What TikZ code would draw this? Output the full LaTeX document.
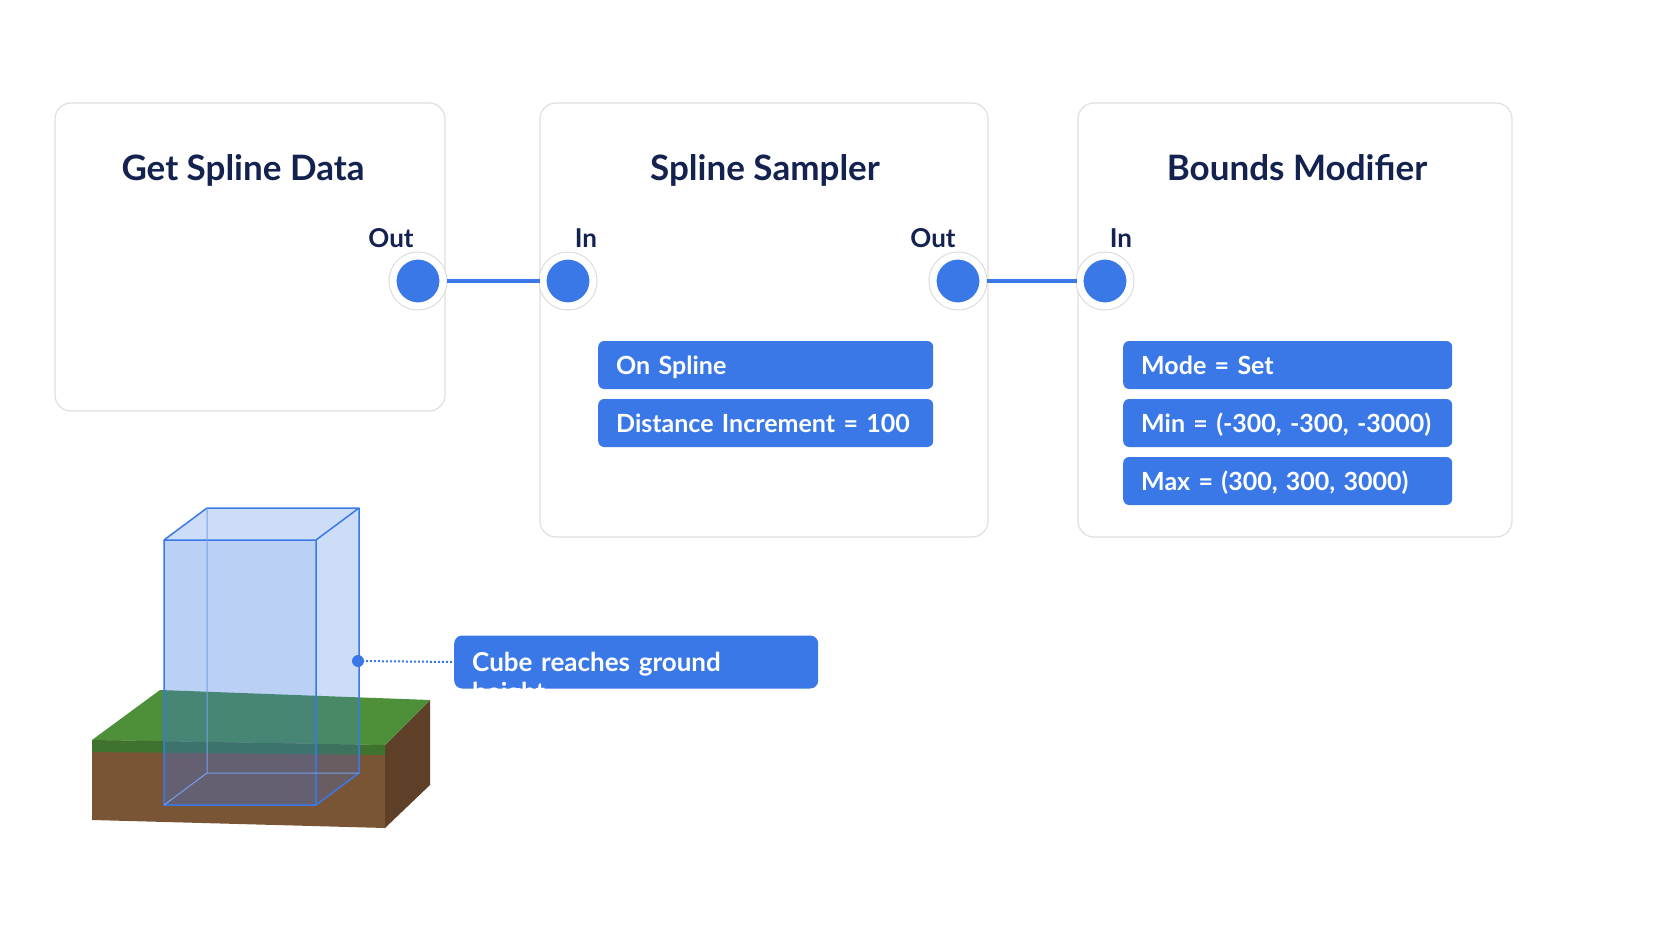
\documentclass[tikz,border=0pt]{standalone}
\usepackage{fontspec}
\setmainfont{Lato}
\usetikzlibrary{positioning}
\definecolor{navy}{HTML}{13224F}
\definecolor{nodeblue}{HTML}{3B78E7}
\definecolor{grass}{HTML}{4E8F3A}
\definecolor{dirt}{HTML}{7A5535}
\definecolor{dirtdark}{HTML}{5E4028}
\tikzset{
  card/.style={draw=black!12, fill=white, rounded corners=16pt, line width=1.2pt},
  title/.style={font=\bfseries\fontsize{35}{40}\selectfont, text=navy, text depth=0pt},
  portlabel/.style={font=\bfseries\fontsize{26}{30}\selectfont, text=navy, text depth=0pt},
  port/.style={circle, fill=nodeblue, draw=white, line width=7pt, minimum size=50pt, inner sep=0pt,
    preaction={draw=black!15, line width=9pt}},
  param/.style={fill=nodeblue, rounded corners=6pt, text=white, anchor=west, align=left,
    font=\bfseries\fontsize{25}{28}\selectfont, minimum height=48pt, inner xsep=18pt, text depth=0pt},
  link/.style={nodeblue, line width=4pt}
}
\begin{document}
\begin{tikzpicture}[x=1pt,y=-1pt]
	\useasboundingbox[fill=white] (0,0) rectangle (1672,941);
	
	% cards
	\draw[card] (55,103) rectangle (445,411);
	\draw[card] (540,103) rectangle (988,537);
	\draw[card] (1078,103) rectangle (1512,537);
	
	\node[title] (t1) at (243,167) {Get Spline Data};
	\node[title] (t2) at (765,167) {Spline Sampler};
	\node[title] (t3) at (1297,167) {Bounds Modifier};
	
	\node[portlabel] (l1) at (391,238) {Out};
	\node[portlabel] (l2) at (586,238) {In};
	\node[portlabel] (l3) at (933,238) {Out};
	\node[portlabel] (l4) at (1121,238) {In};
	
	\node[port] (p1) at (418,281) {};
	\node[port] (p2) at (568,281) {};
	\node[port] (p3) at (958,281) {};
	\node[port] (p4) at (1105,281) {};
	
	\draw[link] (p1) -- (p2);
	\draw[link] (p3) -- (p4);
	
	% parameters
	\node[param, text width=299pt] (s1) at (598,365) {On Spline};
	\node[param, text width=299pt] (s2) at (598,423) {Distance Increment = 100};
	\node[param, text width=293pt] (b1) at (1123,365) {Mode = Set};
	\node[param, text width=293pt] (b2) at (1123,423) {Min = (-300, -300, -3000)};
	\node[param, text width=293pt] (b3) at (1123,481) {Max = (300, 300, 3000)};
	
	% ground block
	\fill[dirt] (92,740) -- (385,745) -- (385,828) -- (92,820) -- cycle;
	\fill[dirtdark] (385,745) -- (430,700) -- (430,785) -- (385,828) -- cycle;
	\fill[grass] (92,740) -- (160,690) -- (430,700) -- (385,745) -- cycle;
	\fill[grass!80!black] (92,740) -- (385,745) -- (385,755) -- (92,752) -- cycle;
	
	% cube
	\fill[nodeblue, opacity=0.25] (164,540) -- (207,508) -- (359,508) -- (359,773) -- (316,805) -- (164,805) -- cycle;
	\fill[nodeblue, opacity=0.12] (164,540) rectangle (316,805);
	\draw[nodeblue, line width=1.5pt, line join=round] (164,540) rectangle (316,805)
	  (164,540) -- (207,508) -- (359,508) -- (316,540)
	  (359,508) -- (359,773) -- (316,805);
	\draw[nodeblue!70, line width=1pt] (207,508) -- (207,773) -- (359,773) (207,773) -- (164,805);
	
	% callout
	\coordinate (cdot) at (358,661);
	\node[param, text width=328pt, minimum height=53pt, rounded corners=8pt, font=\bfseries\fontsize{26}{30}\selectfont] (call) at (454,662) {Cube reaches ground height};
	\draw[nodeblue, line width=2pt, dotted] (cdot) -- (call.west);
	\fill[nodeblue] (cdot) circle (6pt);
\end{tikzpicture}
\end{document}
